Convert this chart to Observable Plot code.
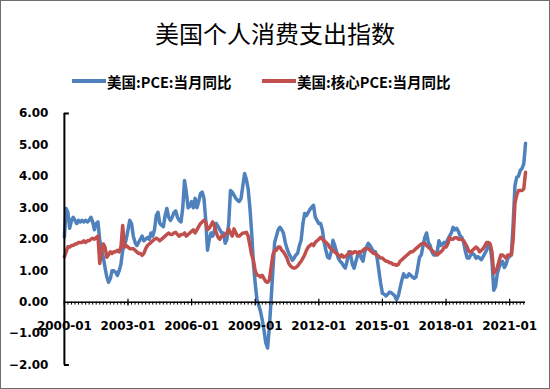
<!DOCTYPE html>
<html>
<head>
<meta charset="utf-8">
<script src="https://cdn.jsdelivr.net/npm/d3@7"></script>
<script src="https://cdn.jsdelivr.net/npm/@observablehq/plot@0.6"></script>
<style>
  body { margin: 0; background: #fff; }
  #chart { position: relative; width: 550px; height: 389px; box-sizing: border-box; border: 1px solid #6e6e6e; background: #fff; overflow: hidden; }
  #title { position: absolute; left: 0; top: 17px; width: 548px; text-align: center; font-family: "Noto Sans CJK SC", sans-serif; font-size: 24px; line-height: 30px; color: #000; }
  .leg { position: absolute; top: 71px; height: 18px; display: flex; align-items: center; font-family: "Noto Sans CJK SC", sans-serif; font-weight: bold; font-size: 14.5px; color: #000; white-space: nowrap; }
  .sw { display: inline-block; width: 34px; height: 4px; margin-right: 1px; }
  #plot { position: absolute; left: -1px; top: 99px; }
</style>
</head>
<body>
<div id="chart">
  <div id="title">美国个人消费支出指数</div>
  <div class="leg" style="left:71px"><span class="sw" style="background:#4F81BD"></span>美国:PCE:当月同比</div>
  <div class="leg" style="left:261px"><span class="sw" style="background:#C0504D"></span>美国:核心PCE:当月同比</div>
  <div id="plot"></div>
</div>
<script>
// Series names
const seriesNames = ["美国:PCE:当月同比", "美国:核心PCE:当月同比"];

// Headline PCE YoY (%), monthly 2000-01 .. 2021-10
const pceValues = [
  2.07, 2.98, 2.85, 2.35, 2.6, 2.7, 2.6, 2.5, 2.6, 2.55, 2.6, 2.55,
  2.6, 2.55, 2.6, 2.7, 2.55, 2.3, 2.5, 2.55, 1.97, 1.7, 1.43, 1.1,
  0.8, 0.63, 0.75, 1.0, 1.0, 0.95, 0.85, 1.0, 1.2, 1.65, 1.8, 2.0,
  2.3, 2.6, 2.5, 2.1, 1.9, 1.8, 1.9, 2.0, 2.1, 1.95, 2.0, 2.05,
  2.0, 2.2, 2.1, 2.3, 2.75, 2.86, 2.5, 2.45, 2.4, 2.75, 2.98, 2.7,
  2.6, 2.7, 2.85, 2.9, 2.7, 2.6, 2.55, 3.0, 3.87, 3.5, 3.0, 3.05,
  3.2, 3.0, 3.3, 3.0, 3.2, 3.45, 3.5, 3.3, 2.6, 1.65, 2.0, 2.2,
  2.1, 2.3, 2.5, 2.4, 2.3, 2.2, 2.2, 1.87, 2.0, 2.5, 3.55, 3.5,
  3.4, 3.3, 3.24, 3.2, 3.3, 3.7, 4.09, 3.9, 3.6, 3.0, 2.2, 1.2,
  0.6, 0.07, -0.1, -0.3, -0.57, -0.9, -1.3, -1.46, -0.8, 0.07, 1.0, 1.9,
  2.1, 2.3, 2.38, 2.3, 2.19, 1.9, 1.7, 1.55, 1.45, 1.33, 1.4, 1.5,
  1.55, 1.8, 1.97, 2.5, 2.82, 2.75, 2.85, 2.95, 3.02, 3.08, 2.7, 2.6,
  2.5, 2.5, 2.3, 1.9, 1.65, 1.43, 1.4, 1.6, 1.97, 1.8, 1.6, 1.4,
  1.3, 1.25, 1.15, 1.08, 1.3, 1.6, 1.5, 1.2, 1.08, 1.3, 1.5, 1.6,
  1.4, 1.3, 1.6, 1.75, 1.87, 1.8, 1.7, 1.6, 1.6, 1.4, 1.0, 0.6,
  0.28, 0.25, 0.2, 0.25, 0.32, 0.3, 0.25, 0.2, 0.07, 0.2, 0.45, 0.7,
  0.9, 0.8, 0.8, 0.9, 0.85, 0.8, 0.76, 0.8, 1.1, 1.43, 1.5, 1.8,
  2.06, 2.2, 1.9, 1.8, 1.6, 1.5, 1.5, 1.6, 1.95, 1.8, 1.85, 1.9,
  1.85, 2.0, 2.1, 2.2, 2.38, 2.3, 2.35, 2.25, 2.1, 2.05, 1.9, 1.6,
  1.4, 1.4, 1.5, 1.55, 1.5, 1.4, 1.45, 1.4, 1.35, 1.45, 1.55, 1.65,
  1.85, 1.8, 1.3, 0.38, 0.5, 0.9, 1.1, 1.23, 1.3, 1.1, 1.2, 1.4,
  1.45, 1.55, 2.5, 3.7, 3.97, 4.0, 4.19, 4.25, 4.4, 5.05
];

// Core PCE YoY (%), monthly 2000-01 .. 2021-10
const coreValues = [
  1.44, 1.6, 1.76, 1.75, 1.8, 1.8, 1.85, 1.85, 1.9, 1.9, 1.9, 1.95,
  1.9, 1.95, 1.95, 2.0, 2.03, 2.0, 2.05, 2.1, 1.23, 1.6, 1.85, 1.75,
  1.43, 1.5, 1.6, 1.55, 1.6, 1.6, 1.65, 1.6, 1.75, 2.44, 1.75, 1.8,
  1.75, 1.7, 1.7, 1.7, 1.65, 1.6, 1.55, 1.55, 1.49, 1.55, 1.7, 1.8,
  1.85, 1.9, 1.95, 2.0, 2.03, 2.0, 1.95, 2.0, 2.05, 2.1, 2.15, 2.2,
  2.15, 2.15, 2.2, 2.22, 2.15, 2.1, 2.15, 2.15, 2.2, 2.1, 2.15, 2.2,
  2.25, 2.3, 2.2, 2.3, 2.4, 2.5, 2.55, 2.6, 2.55, 2.3, 2.35, 2.45,
  2.55, 2.4, 2.2, 2.06, 2.0, 2.1, 2.1, 2.15, 2.2, 2.33, 2.2, 2.1,
  2.33, 2.2, 2.1, 2.1, 2.15, 2.2, 2.2, 2.22, 2.1, 1.8, 1.5, 1.33,
  1.0, 0.86, 0.85, 0.8, 0.85, 0.75, 0.65, 0.63, 0.7, 1.1, 1.5, 1.65,
  1.65, 1.75, 1.75, 1.65, 1.6, 1.5, 1.4, 1.23, 1.15, 1.1, 1.08, 1.1,
  1.15, 1.23, 1.3, 1.4, 1.5, 1.65, 1.75, 1.8, 1.85, 1.8, 1.9, 1.95,
  2.0, 2.06, 2.0, 1.95, 1.9, 1.85, 1.75, 1.7, 1.65, 1.6, 1.55, 1.5,
  1.43, 1.5, 1.43, 1.45, 1.5, 1.55, 1.6, 1.55, 1.6, 1.6, 1.55, 1.6,
  1.6, 1.65, 1.7, 1.7, 1.7, 1.65, 1.6, 1.55, 1.55, 1.5, 1.45, 1.4,
  1.4, 1.35, 1.3, 1.3, 1.25, 1.25, 1.2, 1.2, 1.17, 1.2, 1.3, 1.35,
  1.4, 1.45, 1.5, 1.55, 1.6, 1.6, 1.65, 1.7, 1.75, 1.8, 1.85, 1.87,
  1.87, 1.8, 1.75, 1.7, 1.65, 1.6, 1.55, 1.5, 1.55, 1.6, 1.65, 1.75,
  1.75, 1.85, 2.05, 2.0, 2.0, 2.05, 2.05, 2.0, 2.0, 2.0, 1.95, 1.85,
  1.75, 1.6, 1.6, 1.65, 1.7, 1.75, 1.7, 1.6, 1.65, 1.7, 1.8, 1.9,
  1.9, 1.85, 1.6, 0.92, 1.0, 1.1, 1.3, 1.5, 1.5, 1.45, 1.4, 1.5,
  1.5, 1.5, 2.0, 3.14, 3.4, 3.55, 3.55, 3.55, 3.6, 4.13
];

// Category axis: months 2000-01 .. 2021-10
const startYear = 2000;
const months = pceValues.map((_, i) =>
  `${startYear + Math.floor(i / 12)}-${String(i % 12 + 1).padStart(2, "0")}`);

// Tick labels
const xTickLabels = ["2000-01", "2003-01", "2006-01", "2009-01", "2012-01", "2015-01", "2018-01", "2021-01"];
const yTicks = [-2, -1, 0, 1, 2, 3, 4, 5, 6];

const minorTicks = months.filter((_, i) => i % 2 === 0);
const colors = ["#4F81BD", "#C0504D"];

const rows = months.map((m, i) => ({month: m, pce: pceValues[i], core: coreValues[i]}));

const chart = Plot.plot({
  width: 550,
  height: 289,
  marginLeft: 64,
  marginRight: 24,
  marginTop: 13,
  marginBottom: 24,
  style: {fontFamily: "DejaVu Sans", fontSize: "12px", fontWeight: "bold", color: "#000", background: "transparent", overflow: "visible"},
  x: {type: "point", domain: months, padding: 0, axis: null},
  y: {domain: [yTicks[0], yTicks[yTicks.length - 1]], axis: null},
  marks: [
    Plot.axisY({ticks: yTicks, tickFormat: d3.format(".2f"), tickSize: 0, tickPadding: 16, label: null, fill: "#000", fontWeight: "bold", fontSize: 12}),
    Plot.line(rows, {x: "month", y: "pce", stroke: colors[0], strokeWidth: 3.5, strokeLinejoin: "round"}),
    Plot.line(rows, {x: "month", y: "core", stroke: colors[1], strokeWidth: 3.5, strokeLinejoin: "round"}),
    Plot.ruleY([0], {stroke: "#000", strokeWidth: 1.5}),
    Plot.ruleX(minorTicks, {x: d => d, y1: () => 0, y2: () => 0, insetBottom: -3, stroke: "#000", strokeWidth: 1}),
    Plot.ruleX(xTickLabels, {x: d => d, y1: () => 0, y2: () => 0, insetTop: -3, insetBottom: -4, stroke: "#000", strokeWidth: 1.2}),
    Plot.ruleX([months[0]], {stroke: "#000", strokeWidth: 2}),
    Plot.ruleY([yTicks[0], yTicks[yTicks.length - 1]], {x1: () => months[0], x2: () => months[0], insetRight: -5, stroke: "#000", strokeWidth: 2}),
    Plot.text(xTickLabels, {x: d => d, y: () => 0, dy: 24, text: d => d, fill: "#000", fontWeight: "bold", fontSize: 12})
  ]
});
document.getElementById("plot").appendChild(chart);
</script>
</body>
</html>
